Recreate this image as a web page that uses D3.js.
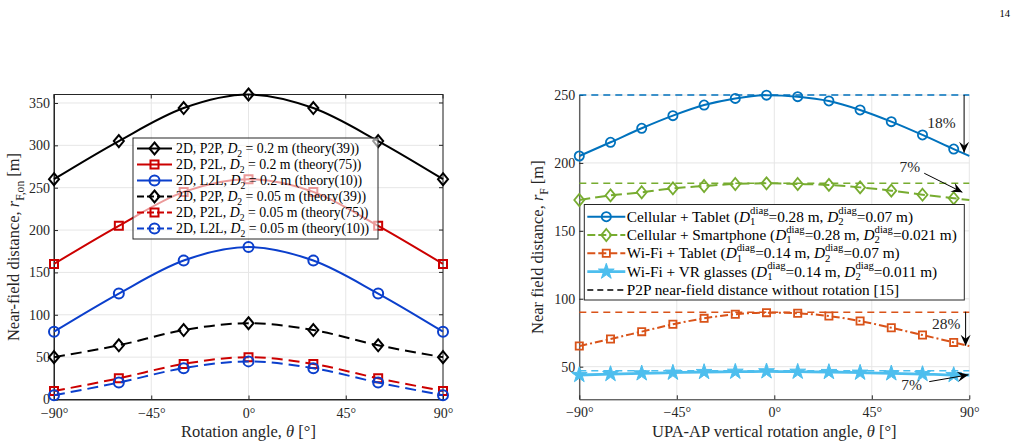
<!DOCTYPE html>
<html>
<head>
<meta charset="utf-8">
<script src="https://cdn.jsdelivr.net/npm/d3@7"></script>
<style>
  body { margin: 0; background: #fff; }
  svg { display: block; font-family: "Liberation Serif", "DejaVu Serif", serif; }
</style>
</head>
<body>
<div id="chart"></div>
<script>
// ---- left panel data (rotation angle vs near-field distance) ----
var angleLeft = [-90, -60, -30, 0, 30, 60, 90];
var p2p02  = [260, 305, 344, 360, 344, 305, 260];
var p2l02  = [160, 205, 245, 260, 245, 205, 160];
var l2l02  = [80, 125, 164, 180, 164, 125, 80];
var p2p005 = [50, 64, 82, 90, 82, 64, 50];
var p2l005 = [10, 25, 42, 50, 42, 25, 10];
var l2l005 = [5, 20, 37, 45, 37, 20, 5];
var leftXTicks = [-90, -45, 0, 45, 90];
var leftYTicks = [0, 50, 100, 150, 200, 250, 300, 350];

// ---- right panel data (UPA-AP vertical rotation) ----
var angleRight = [-90, -75.6, -61.2, -46.8, -32.4, -18, -3.6, 10.8, 25.2, 39.6, 54, 68.4, 82.8, 90];
var cellTablet = [205.1, 215.2, 225.5, 234.8, 242.6, 247.5, 249.9, 248.8, 245.6, 239, 230.4, 220.6, 210.2, 205.1];
var cellPhone  = [172.7, 176.1, 178.4, 181.3, 183, 184.5, 185, 184.5, 183.8, 182, 179.6, 176.6, 174, 172.7];
var wifiTablet = [65.2, 70.4, 75.8, 81.2, 85.6, 88.6, 89.8, 89.3, 87.3, 83.6, 78.7, 73.3, 67.9, 65.2];
var wifiVR     = [43.9, 44.6, 45.1, 45.6, 46.1, 46.3, 46.6, 46.3, 46.1, 45.6, 45.1, 44.6, 43.9, 43.9];
var noRotation = [250, 185, 90, 47];
var rightXTicks = [-90, -45, 0, 45, 90];
var rightYTicks = [50, 100, 150, 200, 250];
var markerCount = 13;

// percentage call-outs: label position and arrow (theta, value)
var callouts = [
  {label: "18%", at: [77.2, 229.4], from: [87.6, 250], to: [87.6, 207.5]},
  {label: "7%",  at: [62.6, 197.2], from: [69.2, 192.4], to: [86.8, 178.4]},
  {label: "28%", at: [79.4, 81.4],  from: [88.3, 90.5], to: [88.3, 65.5]},
  {label: "7%",  at: [63.4, 36.5],  from: [71.5, 39],   to: [89.6, 44]}
];

var W = 1023, H = 448;
var axisColor = "#262626", gridColor = "#e6e6e6";
var tickSize = 14, titleSize = 16.5;

var svg = d3.select("#chart").append("svg")
    .attr("width", W)
    .attr("height", H);

var defs = svg.append("defs");
defs.append("marker")
    .attr("id", "arrowHead")
    .attr("viewBox", "-12 -6 13 12")
    .attr("refX", 0).attr("refY", 0)
    .attr("markerUnits", "userSpaceOnUse")
    .attr("markerWidth", 13).attr("markerHeight", 12)
    .attr("orient", "auto")
  .append("path")
    .attr("d", "M0,0 L-11,-5 L-7,0 L-11,5 Z")
    .attr("fill", "#000");

// text with italic / sub / stacked sub+sup pieces
function richText(t, parts, fs) {
  var base = 0;
  parts.forEach(function(p) {
    var s;
    if (typeof p === "string" || p.i) {
      s = t.append("tspan").text(typeof p === "string" ? p : p.i);
      if (p.i) s.attr("font-style", "italic");
      if (base) { s.attr("dy", -base); base = 0; }
    } else if (p.sub !== undefined && p.sup !== undefined) {
      var a = t.append("tspan").attr("font-size", 0.7 * fs)
          .attr("dy", 0.22 * fs - base).text(p.sub);
      var w = a.node().getComputedTextLength();
      t.append("tspan").attr("font-size", 0.7 * fs)
          .attr("dx", -w).attr("dy", -0.7 * fs).text(p.sup);
      base = 0.22 * fs - 0.7 * fs;
    } else if (p.sub !== undefined) {
      t.append("tspan").attr("font-size", 0.7 * fs)
          .attr("dy", 0.3 * fs - base).text(p.sub);
      base = 0.3 * fs;
    }
  });
  return t;
}

function markerPath(type, size) {
  var s = size;
  if (type === "diamond") return "M0," + (-s * 1.2) + " L" + s + ",0 L0," + (s * 1.2) + " L" + (-s) + ",0 Z";
  if (type === "square") return "M" + (-s) + "," + (-s) + " h" + (2 * s) + " v" + (2 * s) + " h" + (-2 * s) + " Z";
  if (type === "star") return d3.symbol().type(d3.symbolStar).size(s * s)();
  return d3.symbol().type(d3.symbolCircle).size(Math.PI * s * s)();
}

function drawMarker(g, type, size, color, x, y, sw) {
  g.append("path")
      .attr("d", markerPath(type, size))
      .attr("transform", "translate(" + x + "," + y + ")")
      .attr("fill", type === "star" ? color : "none")
      .attr("stroke", color)
      .attr("stroke-width", type === "star" ? 1 : sw);
}

// axes frame, grid and ticks for one panel
function makePanel(o) {
  var x = d3.scaleLinear().domain(o.xDomain).range([o.left, o.left + o.width]);
  var y = d3.scaleLinear().domain(o.yDomain).range([o.top + o.height, o.top]);
  var g = svg.append("g");

  // grid
  g.selectAll(".gx").data(o.xTicks).enter().append("line")
      .attr("x1", function(d) { return x(d); }).attr("x2", function(d) { return x(d); })
      .attr("y1", o.top).attr("y2", o.top + o.height)
      .attr("stroke", gridColor).attr("stroke-width", 1);
  g.selectAll(".gy").data(o.yTicks).enter().append("line")
      .attr("x1", o.left).attr("x2", o.left + o.width)
      .attr("y1", function(d) { return y(d); }).attr("y2", function(d) { return y(d); })
      .attr("stroke", gridColor).attr("stroke-width", 1);

  // axes (ticks inside, like matlab)
  var ax = g.append("g")
      .attr("transform", "translate(0," + (o.top + o.height) + ")")
      .call(d3.axisBottom(x).tickValues(o.xTicks).tickSizeInner(-4).tickSizeOuter(0)
          .tickFormat(function(d) { return (d < 0 ? "\u2212" + (-d) : d) + "\u00b0"; }));
  var ay = g.append("g")
      .attr("transform", "translate(" + o.left + ",0)")
      .call(d3.axisLeft(y).tickValues(o.yTicks).tickSizeInner(-4).tickSizeOuter(0));
  [ax, ay].forEach(function(a) {
    a.select(".domain").attr("stroke", axisColor);
    a.selectAll(".tick line").attr("stroke", axisColor);
    a.selectAll(".tick text").attr("fill", axisColor)
        .attr("font-family", "Liberation Serif").attr("font-size", tickSize);
  });
  ax.selectAll(".tick text").attr("dy", null).attr("y", 18);
  ay.selectAll(".tick text").attr("x", -4);

  if (o.box) {
    g.append("rect")
        .attr("x", o.left).attr("y", o.top)
        .attr("width", o.width).attr("height", o.height)
        .attr("fill", "none").attr("stroke", axisColor);
    g.selectAll(".tt").data(o.xTicks).enter().append("line")
        .attr("x1", function(d) { return x(d); }).attr("x2", function(d) { return x(d); })
        .attr("y1", o.top).attr("y2", o.top + 4).attr("stroke", axisColor);
    g.selectAll(".tr").data(o.yTicks).enter().append("line")
        .attr("x1", o.left + o.width).attr("x2", o.left + o.width - 4)
        .attr("y1", function(d) { return y(d); }).attr("y2", function(d) { return y(d); })
        .attr("stroke", axisColor);
  }

  // axis titles
  richText(g.append("text")
      .attr("x", o.left + o.width / 2).attr("y", 437)
      .attr("text-anchor", "middle").attr("font-size", titleSize).attr("fill", axisColor), o.xTitle, titleSize);
  richText(g.append("text")
      .attr("transform", "translate(" + o.yTitleX + "," + (o.top + o.height / 2) + ") rotate(-90)")
      .attr("text-anchor", "middle").attr("font-size", titleSize).attr("fill", axisColor), o.yTitle, titleSize);

  return {x: x, y: y, g: g};
}

// ================= left panel =================
var L = makePanel({
  left: 54, top: 94.5, width: 389, height: 305,
  xDomain: [-90, 90], yDomain: [0, 360],
  xTicks: leftXTicks, yTicks: leftYTicks, box: true,
  xTitle: ["Rotation angle, ", {i: "\u03b8"}, " [\u00b0]"],
  yTitle: ["Near-field distance, ", {i: "r"}, {sub: "F,on"}, " [m]"],
  yTitleX: 19
});

var leftSeries = [
  {values: p2p02,  color: "#000000", dash: null,   marker: "diamond", size: 5,
   label: ["2D, P2P, ", {i: "D"}, {sub: "2"}, " = 0.2 m (theory(39))"]},
  {values: p2l02,  color: "#cc0000", dash: null,   marker: "square",  size: 4,
   label: ["2D, P2L, ", {i: "D"}, {sub: "2"}, " = 0.2 m (theory(75))"]},
  {values: l2l02,  color: "#0b3fcc", dash: null,   marker: "circle",  size: 5,
   label: ["2D, L2L, ", {i: "D"}, {sub: "2"}, " = 0.2 m (theory(10))"]},
  {values: p2p005, color: "#000000", dash: "11,6", marker: "diamond", size: 5,
   label: ["2D, P2P, ", {i: "D"}, {sub: "2"}, " = 0.05 m (theory(39))"]},
  {values: p2l005, color: "#cc0000", dash: "11,6", marker: "square",  size: 4,
   label: ["2D, P2L, ", {i: "D"}, {sub: "2"}, " = 0.05 m (theory(75))"]},
  {values: l2l005, color: "#0b3fcc", dash: "11,6", marker: "circle",  size: 5,
   label: ["2D, L2L, ", {i: "D"}, {sub: "2"}, " = 0.05 m (theory(10))"]}
];

var lineL = d3.line()
    .x(function(d, i) { return L.x(angleLeft[i]); })
    .y(function(d) { return L.y(d); })
    .curve(d3.curveMonotoneX);

leftSeries.forEach(function(s) {
  L.g.append("path")
      .attr("d", lineL(s.values))
      .attr("fill", "none")
      .attr("stroke", s.color)
      .attr("stroke-width", 2)
      .attr("stroke-dasharray", s.dash);
  s.values.forEach(function(v, i) {
    drawMarker(L.g, s.marker, s.size, s.color, L.x(angleLeft[i]), L.y(v), 2);
  });
});

// left legend (semi transparent, lines show through)
var legL = svg.append("g").attr("transform", "translate(133,138)");
legL.append("rect")
    .attr("width", 245).attr("height", 101)
    .attr("fill", "#fff").attr("fill-opacity", 0.6)
    .attr("stroke", axisColor).attr("stroke-width", 1);
leftSeries.forEach(function(s, i) {
  var cy = 10.5 + i * 16;
  legL.append("line")
      .attr("x1", 4).attr("x2", 39).attr("y1", cy).attr("y2", cy)
      .attr("stroke", s.color).attr("stroke-width", 2)
      .attr("stroke-dasharray", s.dash ? "7,3" : null);
  drawMarker(legL, s.marker, s.size, s.color, 21.5, cy, 2);
  richText(legL.append("text")
      .attr("x", 43).attr("y", cy + 4.5)
      .attr("font-size", 13.8).attr("fill", "#000"), s.label, 13.8);
});

// ================= right panel =================
var R = makePanel({
  left: 579.3, top: 95, width: 390, height: 304.3,
  xDomain: [-90, 90], yDomain: [26, 250],
  xTicks: rightXTicks, yTicks: rightYTicks, box: false,
  xTitle: ["UPA-AP vertical rotation angle, ", {i: "\u03b8"}, " [\u00b0]"],
  yTitle: ["Near field distance, ", {i: "r"}, {sub: "F"}, " [m]"],
  yTitleX: 543
});

var rightSeries = [
  {values: cellTablet, color: "#0072bd", dash: null,      marker: "circle",  size: 4.6, width: 2,
   label: ["Cellular + Tablet (", {i: "D"}, {sub: "1", sup: "diag"}, "=0.28 m, ", {i: "D"}, {sub: "2", sup: "diag"}, "=0.07 m)"]},
  {values: cellPhone,  color: "#77ac30", dash: "11,5",    marker: "diamond", size: 5,   width: 2,
   label: ["Cellular + Smartphone (", {i: "D"}, {sub: "1", sup: "diag"}, "=0.28 m, ", {i: "D"}, {sub: "2", sup: "diag"}, "=0.021 m)"]},
  {values: wifiTablet, color: "#d95319", dash: "8,3,2,3", marker: "square",  size: 3.6, width: 2,
   label: ["Wi-Fi + Tablet (", {i: "D"}, {sub: "1", sup: "diag"}, "=0.14 m, ", {i: "D"}, {sub: "2", sup: "diag"}, "=0.07 m)"]},
  {values: wifiVR,     color: "#4dbeee", dash: null,      marker: "star",    size: 8.8, width: 2.8,
   label: ["Wi-Fi + VR glasses (", {i: "D"}, {sub: "1", sup: "diag"}, "=0.14 m, ", {i: "D"}, {sub: "2", sup: "diag"}, "=0.011 m)"]}
];

var lineR = d3.line()
    .x(function(d, i) { return R.x(angleRight[i]); })
    .y(function(d) { return R.y(d); })
    .curve(d3.curveMonotoneX);

// dashed references (no rotation)
noRotation.forEach(function(v, i) {
  R.g.append("line")
      .attr("x1", R.x(-90)).attr("x2", R.x(90))
      .attr("y1", R.y(v)).attr("y2", R.y(v))
      .attr("stroke", rightSeries[i].color)
      .attr("stroke-width", 1.5)
      .attr("stroke-dasharray", "7,5");
});

rightSeries.forEach(function(s) {
  R.g.append("path")
      .attr("d", lineR(s.values))
      .attr("fill", "none")
      .attr("stroke", s.color)
      .attr("stroke-width", s.width)
      .attr("stroke-dasharray", s.dash);
  s.values.slice(0, markerCount).forEach(function(v, i) {
    drawMarker(R.g, s.marker, s.size, s.color, R.x(angleRight[i]), R.y(v), 1.8);
  });
});

// call-outs
callouts.forEach(function(c) {
  R.g.append("line")
      .attr("x1", R.x(c.from[0])).attr("y1", R.y(c.from[1]))
      .attr("x2", R.x(c.to[0])).attr("y2", R.y(c.to[1]))
      .attr("stroke", "#000").attr("stroke-width", 1)
      .attr("marker-end", "url(#arrowHead)");
  R.g.append("text")
      .attr("x", R.x(c.at[0])).attr("y", R.y(c.at[1]) + 5)
      .attr("text-anchor", "middle")
      .attr("font-size", 15.5).attr("fill", axisColor)
      .text(c.label);
});

// right legend
var legR = svg.append("g").attr("transform", "translate(584.3,204.5)");
legR.append("rect")
    .attr("width", 380).attr("height", 95.5)
    .attr("fill", "#fff")
    .attr("stroke", axisColor).attr("stroke-width", 1);
rightSeries.concat([{color: "#000", dash: "6,4", marker: null, width: 1.5,
    label: ["P2P near-field distance without rotation [15]"]}]).forEach(function(s, i) {
  var cy = 12.2 + i * 18.3;
  legR.append("line")
      .attr("x1", 3).attr("x2", 41).attr("y1", cy).attr("y2", cy)
      .attr("stroke", s.color).attr("stroke-width", s.width)
      .attr("stroke-dasharray", s.dash ? (s.marker ? "8,3" : "6,4") : null);
  if (s.marker) drawMarker(legR, s.marker, s.size, s.color, 22, cy, 1.8);
  richText(legR.append("text")
      .attr("x", 42.5).attr("y", cy + 5)
      .attr("font-size", 15.3).attr("fill", "#000"), s.label, 15.3);
});

// page number
svg.append("text")
    .attr("x", 1010).attr("y", 17)
    .attr("text-anchor", "end")
    .attr("font-size", 10.5)
    .text("14");
</script>
</body>
</html>
